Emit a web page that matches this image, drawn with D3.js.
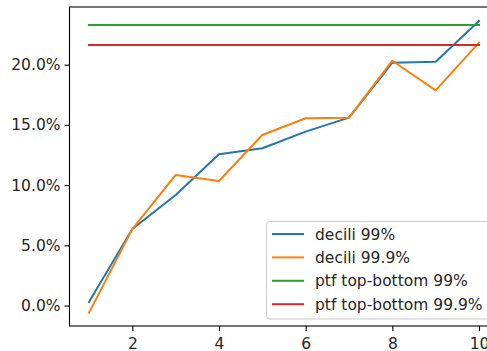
<!DOCTYPE html>
<html>
<head>
<meta charset="utf-8">
<script src="https://cdn.jsdelivr.net/npm/d3@7"></script>
<style>
  html, body { margin: 0; padding: 0; background: #fff; }
  svg { display: block; font-family: "DejaVu Sans", sans-serif; }
</style>
</head>
<body>
<svg id="chart" width="487" height="351"></svg>
<script>
// Deciles 1..10 and their returns (in %)
const deciles = [1, 2, 3, 4, 5, 6, 7, 8, 9, 10];
const decili99 = [0.3, 6.35, 9.18, 12.56, 13.06, 14.44, 15.6, 20.17, 20.25, 23.63];
const decili999 = [-0.6, 6.35, 10.84, 10.34, 14.16, 15.55, 15.6, 20.33, 17.87, 21.83];
const ptfTopBottom99 = 23.3;
const ptfTopBottom999 = 21.64;
const seriesNames = ["decili 99%", "decili 99.9%", "ptf top-bottom 99%", "ptf top-bottom 99.9%"];
const colors = ["#1f77b4", "#ff7f0e", "#2ca02c", "#d62728"];
const xTicks = [2, 4, 6, 8, 10];
const yTicks = [0, 5, 10, 15, 20];

const svg = d3.select("#chart");
const plotLeft = 69.5, plotTop = 7, plotRight = 498.5, plotBottom = 326;

const x = d3.scaleLinear().domain([0.55, 10.45]).range([plotLeft, plotRight]);
const y = d3.scaleLinear().domain([-1.70, 24.79]).range([plotBottom, plotTop]);

const series = [
  deciles.map((d, i) => [d, decili99[i]]),
  deciles.map((d, i) => [d, decili999[i]]),
  [[1, ptfTopBottom99], [10, ptfTopBottom99]],
  [[1, ptfTopBottom999], [10, ptfTopBottom999]]
];

const line = d3.line().x(d => x(d[0])).y(d => y(d[1]));

series.forEach((s, i) => {
  svg.append("path")
    .datum(s)
    .attr("d", line)
    .attr("fill", "none")
    .attr("stroke", colors[i])
    .attr("stroke-width", 2)
    .attr("stroke-linejoin", "round")
    .attr("stroke-linecap", "square");
});

// axes
const fontSize = 15.5;
const xAxis = d3.axisBottom(x).tickValues(xTicks).tickSize(5).tickPadding(7).tickFormat(d3.format("d"));
const yAxis = d3.axisLeft(y).tickValues(yTicks).tickSize(5).tickPadding(4).tickFormat(d => d.toFixed(1) + "%");

const gx = svg.append("g").attr("transform", `translate(0,${plotBottom})`).call(xAxis);
const gy = svg.append("g").attr("transform", `translate(${plotLeft},0)`).call(yAxis);
[gx, gy].forEach(g => {
  g.select(".domain").remove();
  g.selectAll("line").attr("stroke", "#000").attr("stroke-width", 1.1);
  g.selectAll("text").attr("fill", "#262626").style("font-size", fontSize + "px").style("font-family", "DejaVu Sans");
});

// spines
svg.append("rect")
  .attr("x", plotLeft).attr("y", plotTop)
  .attr("width", plotRight - plotLeft).attr("height", plotBottom - plotTop)
  .attr("fill", "none").attr("stroke", "#000").attr("stroke-width", 1.1);

// legend
const lg = svg.append("g");
lg.append("rect")
  .attr("x", 266.5).attr("y", 221.5)
  .attr("width", 225).attr("height", 97.5)
  .attr("rx", 3).attr("ry", 3)
  .attr("fill", "#fff").attr("fill-opacity", 0.8)
  .attr("stroke", "#cccccc").attr("stroke-width", 1);
seriesNames.forEach((name, i) => {
  const cy = 234 + i * 23.4;
  lg.append("line")
    .attr("x1", 272).attr("x2", 304)
    .attr("y1", cy).attr("y2", cy)
    .attr("stroke", colors[i]).attr("stroke-width", 2);
  lg.append("text")
    .attr("x", 315).attr("y", cy)
    .attr("dy", "0.36em")
    .attr("fill", "#262626")
    .style("font-size", fontSize + "px")
    .text(name);
});
</script>
</body>
</html>
